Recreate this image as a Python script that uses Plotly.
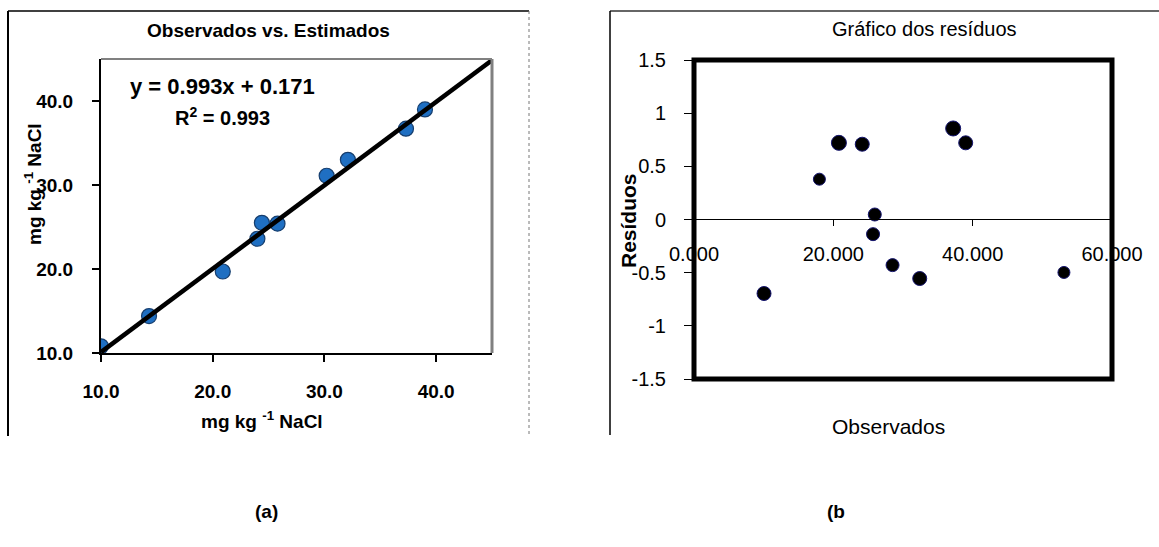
import plotly.graph_objects as go

W, H = 1159, 547

# ---- data ----
obs_left = [10.0, 14.3, 20.9, 24.0, 24.4, 25.8, 30.2, 32.1, 37.3, 39.0]
est_left = [10.8, 14.4, 19.7, 23.6, 25.5, 25.4, 31.1, 33.0, 36.7, 39.0]
fit_slope = 0.993
fit_intercept = 0.171
fit_x = [10.0, 45.0]

obs_right = [10.05, 18.0, 20.8, 24.15, 25.95, 25.7, 28.5, 32.4, 37.2, 39.0, 53.1]
resid_right = [-0.696, 0.379, 0.721, 0.708, 0.047, -0.138, -0.429, -0.555, 0.856, 0.721, -0.498]
right_sizes = [14, 12, 15, 14, 13, 13, 13, 14, 15, 14, 12]

left_ticks = [10, 20, 30, 40]
right_xticks = [0, 20, 40, 60]
right_xticklabels = ["0.000", "20.000", "40.000", "60.000"]
right_yticks = [-1.5, -1, -0.5, 0, 0.5, 1, 1.5]
right_yticklabels = ["-1.5", "-1", "-0.5", "0", "0.5", "1", "1.5"]

FONT = "Arial, Liberation Sans, sans-serif"

def px(x):
    return x / W

def py(y):
    return 1 - y / H

fig = go.Figure()

# left panel
fig.add_trace(go.Scatter(
    x=obs_left, y=est_left, mode="markers", xaxis="x", yaxis="y",
    marker=dict(size=15, color="#1f6fc2", opacity=1, line=dict(color="#163e6e", width=1.2)),
    showlegend=False, hoverinfo="skip"))
fig.add_trace(go.Scatter(
    x=fit_x, y=[fit_slope * v + fit_intercept for v in fit_x], mode="lines",
    xaxis="x", yaxis="y", line=dict(color="black", width=4.5),
    showlegend=False, hoverinfo="skip", cliponaxis=False))

# right panel
fig.add_trace(go.Scatter(
    x=obs_right, y=resid_right, mode="markers", xaxis="x2", yaxis="y2",
    marker=dict(size=right_sizes, color="black", opacity=1, line=dict(color="#14146e", width=1)),
    showlegend=False, hoverinfo="skip"))

L_dom_x = [px(101), px(492)]
L_dom_y = [py(353), py(59)]
R_dom_x = [px(694), px(1112)]
R_dom_y = [py(379), py(60)]

fig.update_layout(
    width=W, height=H, margin=dict(l=0, r=0, t=0, b=0, pad=0, autoexpand=False),
    paper_bgcolor="white", plot_bgcolor="white",
    font=dict(family=FONT, color="black"),
    xaxis=dict(domain=L_dom_x, anchor="y", range=[10, 45], tickvals=left_ticks, automargin=False,
               tickformat=".1f", ticks="outside", ticklen=7, tickwidth=2, tickcolor="black",
               showgrid=False, zeroline=False, showline=True, linecolor="black", linewidth=2,
               tickfont=dict(size=19, family=FONT, weight="bold"),
               ticklabelstandoff=13),
    yaxis=dict(domain=L_dom_y, anchor="x", range=[10, 45], tickvals=left_ticks, automargin=False,
               tickformat=".1f", ticks="outside", ticklen=7, tickwidth=2, tickcolor="black",
               showgrid=False, zeroline=False, showline=True, linecolor="black", linewidth=2,
               tickfont=dict(size=19, family=FONT, weight="bold"),
               ticklabelstandoff=15),
    xaxis2=dict(domain=R_dom_x, anchor="free", position=py(219), range=[0, 60], automargin=False,
                tickvals=right_xticks, ticktext=right_xticklabels,
                ticks="outside", ticklen=6, tickwidth=1, tickcolor="black",
                showgrid=False, zeroline=False, showline=True, linecolor="black", linewidth=1,
                tickfont=dict(size=20, family=FONT), ticklabelstandoff=11),
    yaxis2=dict(domain=R_dom_y, anchor="x2", range=[-1.5, 1.5], automargin=False,
                tickvals=right_yticks, ticktext=right_yticklabels,
                ticks="outside", ticklen=9, tickwidth=1, tickcolor="black",
                showgrid=False, zeroline=False, showline=False,
                tickfont=dict(size=20, family=FONT), ticklabelstandoff=14),
)

shapes = []
# left panel outer frame
shapes.append(dict(type="line", xref="paper", yref="paper", x0=px(8), x1=px(529), y0=py(11), y1=py(11),
                   line=dict(color="black", width=1.5)))
shapes.append(dict(type="line", xref="paper", yref="paper", x0=px(8), x1=px(8), y0=py(11), y1=py(436),
                   line=dict(color="black", width=2)))
shapes.append(dict(type="line", xref="paper", yref="paper", x0=px(529), x1=px(529), y0=py(11), y1=py(436),
                   line=dict(color="#777777", width=1, dash="dot")))
# left plot area top/right gray borders
shapes.append(dict(type="line", xref="x domain", yref="y domain", x0=0, x1=1, y0=1, y1=1,
                   line=dict(color="#808080", width=2)))
shapes.append(dict(type="line", xref="x domain", yref="y domain", x0=1, x1=1, y0=0, y1=1,
                   line=dict(color="#808080", width=3)))
# right panel outer frame
shapes.append(dict(type="line", xref="paper", yref="paper", x0=px(610), x1=1, y0=py(11), y1=py(11),
                   line=dict(color="#333333", width=1.5)))
shapes.append(dict(type="line", xref="paper", yref="paper", x0=px(610), x1=px(610), y0=py(11), y1=py(435),
                   line=dict(color="black", width=1.5)))
# right plot area thick border
shapes.append(dict(type="rect", xref="x2 domain", yref="y2 domain", x0=0, x1=1, y0=0, y1=1,
                   line=dict(color="black", width=5), fillcolor="rgba(0,0,0,0)", layer="above"))
fig.update_layout(shapes=shapes)

annotations = [
    dict(text="<b>Observados vs. Estimados</b>", xref="paper", yref="paper", x=px(268), y=py(30),
         showarrow=False, font=dict(size=19, family=FONT), xanchor="center", yanchor="middle"),
    dict(text="<b>y = 0.993x + 0.171</b>", xref="paper", yref="paper", x=px(222), y=py(86),
         showarrow=False, font=dict(size=22, family=FONT), xanchor="center", yanchor="middle"),
    dict(text="<b>R<sup>2</sup> = 0.993</b>", xref="paper", yref="paper", x=px(222), y=py(116),
         showarrow=False, font=dict(size=20, family=FONT), xanchor="center", yanchor="middle"),
    dict(text="<b>mg kg <sup>-1</sup> NaCl</b>", xref="paper", yref="paper", x=px(262), y=py(420),
         showarrow=False, font=dict(size=19, family=FONT), xanchor="center", yanchor="middle"),
    dict(text="<b>mg kg <sup>-1</sup> NaCl</b>", xref="paper", yref="paper", x=px(33), y=py(184),
         showarrow=False, font=dict(size=19, family=FONT), textangle=-90,
         xanchor="center", yanchor="middle"),
    dict(text="Gráfico dos resíduos", xref="paper", yref="paper", x=px(924), y=py(29),
         showarrow=False, font=dict(size=20, family=FONT), xanchor="center", yanchor="middle"),
    dict(text="<b>Resíduos</b>", xref="paper", yref="paper", x=px(629), y=py(221),
         showarrow=False, font=dict(size=21, family=FONT), textangle=-90,
         xanchor="center", yanchor="middle"),
    dict(text="Observados", xref="paper", yref="paper", x=px(888), y=py(426),
         showarrow=False, font=dict(size=21, family=FONT), xanchor="center", yanchor="middle"),
    dict(text="<b>(a)</b>", xref="paper", yref="paper", x=px(266), y=py(511),
         showarrow=False, font=dict(size=19, family=FONT), xanchor="center", yanchor="middle"),
    dict(text="<b>(b</b>", xref="paper", yref="paper", x=px(836), y=py(511),
         showarrow=False, font=dict(size=19, family=FONT), xanchor="center", yanchor="middle"),
]
fig.update_layout(annotations=annotations)

fig.write_html("out.html")
